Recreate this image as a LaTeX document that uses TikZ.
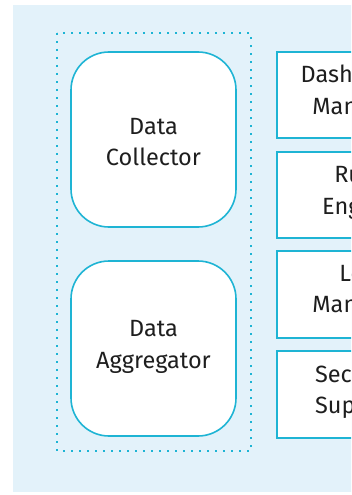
\documentclass[tikz,border=0pt]{standalone}
\usepackage{fontspec}
\setmainfont{Fira Sans}
\definecolor{bgblue}{HTML}{E3F2FA}
\definecolor{cyanline}{HTML}{1EB4D4}
\definecolor{txt}{HTML}{1E1E1E}
\tikzset{
  roundbox/.style={draw=cyanline, line width=1.6pt, fill=white, rounded corners=38pt},
  sqbox/.style={draw=cyanline, line width=1.6pt, fill=white},
  lbl/.style={text=txt, align=center, font=\fontsize{23.5}{31.5}\selectfont},
}
\begin{document}
\begin{tikzpicture}[x=1pt,y=-1pt]
\useasboundingbox (0,0) rectangle (351,495);
\clip (0,0) rectangle (351,495);
\fill[bgblue] (13,5) rectangle (440,492);
\draw[cyanline, line width=1.5pt, dash pattern=on 1.6pt off 6.4pt] (57,33) rectangle (251,451);
% left rounded boxes
\draw[roundbox] (71,52) rectangle (236,227);
\node[lbl] (collector) at (153.5,142) {Data\\Collector};
\draw[roundbox] (71,261) rectangle (236,436);
\node[lbl] (aggregator) at (153.5,347) {Data\\Aggregator};
% right boxes
\draw[sqbox] (277,52) rectangle (440,138);
\node[lbl] (dash) at (358,92) {Dashboard\\Manager};
\draw[sqbox] (277,152) rectangle (440,238);
\node[lbl] (rule) at (358,192) {Rule\\Engine};
\draw[sqbox] (277,251) rectangle (440,338);
\node[lbl] (log) at (358,291.5) {Log\\Manager};
\draw[sqbox] (277,351) rectangle (440,438);
\node[lbl] (sec) at (358,391.5) {Security\\Support};
\end{tikzpicture}
\end{document}
